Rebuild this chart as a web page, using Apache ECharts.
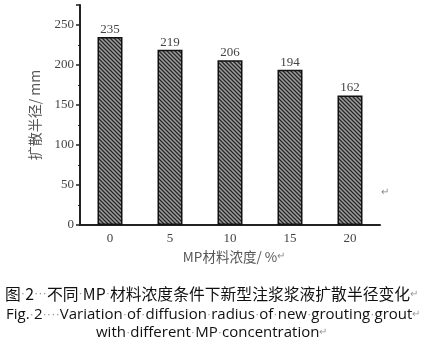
<!DOCTYPE html>
<html><head><meta charset="utf-8">
<script src="https://cdn.jsdelivr.net/npm/echarts@6/dist/echarts.min.js"></script>
<style>html,body{margin:0;padding:0;background:#fff}#c{width:438px;height:358px}</style>
</head><body><div id="c"></div>
<script>
var categories = ['0', '5', '10', '15', '20'];
var radius = [235, 219, 206, 194, 162];
var yTicks = [0, 50, 100, 150, 200, 250];
var yName = '扩散半径/ mm';
var xName = 'MP材料浓度/ %';
var cap1 = ['图', '2', '', '', '不同', 'MP', '材料浓度条件下新型注浆浆液扩散半径变化'];
var cap2 = ['Fig.', '2', '', '', '', 'Variation', 'of', 'diffusion', 'radius', 'of', 'new', 'grouting', 'grout'];
var cap3 = ['with', 'different', 'MP', 'concentration'];

function hatch() {
  var s = 4, c = document.createElement('canvas');
  c.width = s; c.height = s;
  var g = c.getContext('2d');
  g.fillStyle = '#9e9e9e'; g.fillRect(0, 0, s, s);
  g.strokeStyle = '#262626'; g.lineWidth = 1.3;
  g.beginPath();
  g.moveTo(-1, -1); g.lineTo(s + 1, s + 1);
  g.moveTo(-1, s - 1); g.lineTo(1, s + 1);
  g.moveTo(s - 1, -1); g.lineTo(s + 1, 1);
  g.stroke();
  return c;
}
function dotted(parts) {
  return parts.join('{d|·}') + '{r|↵}';
}

var chart = echarts.init(document.getElementById('c'), null, {renderer: 'canvas'});
var serif = 'Liberation Serif';
var rich = {d: {fill: '#999', fontSize: 13}, r: {fill: '#999', fontSize: 10}};
chart.setOption({
  animation: false,
  grid: {left: 80, right: 58, top: 5, bottom: 133},
  xAxis: [{
    type: 'category', data: categories, boundaryGap: true,
    axisLine: {lineStyle: {color: '#222', width: 2}},
    axisTick: {alignWithLabel: true, length: 4, lineStyle: {color: '#222', width: 1.5}},
    axisLabel: {fontFamily: serif, fontSize: 13, color: '#444', margin: 7},
    name: xName, nameLocation: 'middle', nameGap: 25,
    nameTextStyle: {fontFamily: 'Noto Sans CJK SC', fontSize: 13.5, color: '#555'}
  }, {
    type: 'category', data: categories, boundaryGap: true, position: 'bottom',
    axisLine: {show: false},
    axisTick: {length: 2, lineStyle: {color: '#222', width: 1.5}},
    axisLabel: {show: false}
  }],
  yAxis: {
    type: 'value', min: 0, max: 275, interval: 50,
    axisLine: {show: true, lineStyle: {color: '#222', width: 2}},
    axisTick: {show: true, length: 4, lineStyle: {color: '#222', width: 1.5}},
    minorTick: {show: true, splitNumber: 2, length: 2, lineStyle: {color: '#222', width: 1.2}},
    splitLine: {show: false},
    axisLabel: {fontFamily: serif, fontSize: 13, color: '#444', margin: 6, showMaxLabel: false,
      formatter: function (v) { return yTicks.indexOf(v) >= 0 ? String(v) : ''; }},
    name: yName, nameLocation: 'middle', nameGap: 38, nameRotate: 90,
    nameTextStyle: {fontFamily: 'Noto Sans CJK SC', fontSize: 14, color: '#555', padding: [0, 0, 0, 0]}
  },
  series: [{
    type: 'bar', data: radius, barWidth: 25,
    itemStyle: {color: {image: hatch(), repeat: 'repeat'}, borderColor: '#111', borderWidth: 1.5},
    label: {show: true, position: 'top', distance: 1, fontFamily: serif, fontSize: 13, color: '#444'}
  }],
  graphic: [
    {type: 'text', left: 277, top: 251, style: {text: '↵', fontSize: 10, fill: '#888'}},
    {type: 'text', left: 381, top: 187, style: {text: '↵', fontSize: 10, fill: '#888'}},
    {type: 'text', left: 5, top: 286, style: {
      text: dotted(cap1), fontFamily: 'Noto Sans CJK SC', fontSize: 15.8, fill: '#111', rich: rich}},
    {type: 'text', left: 6, top: 307, style: {
      text: dotted(cap2), fontFamily: 'Open Sans', fontSize: 15, fill: '#111', rich: rich}},
    {type: 'text', left: 96, top: 325, style: {
      text: dotted(cap3), fontFamily: 'Open Sans', fontSize: 15, fill: '#111', rich: rich}}
  ]
});
</script></body></html>
